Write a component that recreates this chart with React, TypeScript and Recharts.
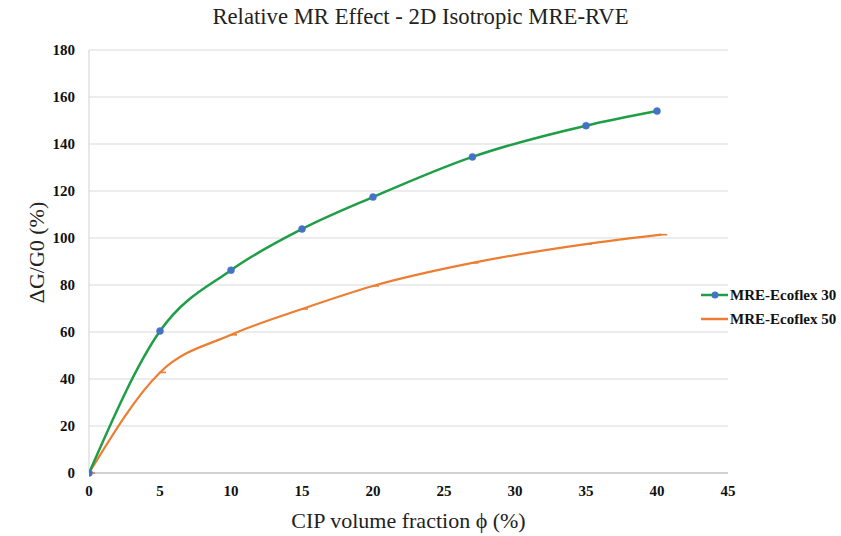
import React from 'react';
import {
  LineChart,
  Line,
  XAxis,
  YAxis,
  CartesianGrid,
  Label,
} from 'recharts';

const xTicks = [0, 5, 10, 15, 20, 25, 30, 35, 40, 45];
const yTicks = [0, 20, 40, 60, 80, 100, 120, 140, 160, 180];

const ecoflex30X = [0, 5, 10, 15, 20, 27, 35, 40];
const ecoflex30Y = [0, 60.4, 86.3, 103.8, 117.4, 134.5, 147.8, 154];

const ecoflex50X = [0, 5, 10, 15, 20, 27, 35, 40.3];
const ecoflex50Y = [0, 42.8, 58.8, 69.8, 79.6, 89.4, 97.4, 101.4];

const data30 = ecoflex30X.map((x, i) => ({ x, y: ecoflex30Y[i] }));
const data50 = ecoflex50X.map((x, i) => ({ x, y: ecoflex50Y[i] }));

const legendItems = [
  { name: 'MRE-Ecoflex 30', color: '#1e9e45', dot: true },
  { name: 'MRE-Ecoflex 50', color: '#ed7d31', dot: false },
];

const GREEN = '#1e9e45';
const ORANGE = '#ed7d31';
const BLUE = '#4472c4';
const SERIF = '"Liberation Serif", "Times New Roman", serif';

const DashDot = (props: any) => {
  const { cx, cy, index } = props;
  if (cx == null || cy == null) return <g key={index} />;
  return (
    <line
      key={index}
      x1={cx - 1}
      y1={cy}
      x2={cx + 6}
      y2={cy}
      stroke={ORANGE}
      strokeWidth={1.6}
    />
  );
};

// legend drawn outside recharts so it doesn't shrink the plot
const LegendBox = () => (
  <div
    style={{
      position: 'absolute',
      left: 701,
      top: 283,
      fontFamily: SERIF,
      fontWeight: 700,
      fontSize: 15,
      color: '#111',
    }}
  >
    {legendItems.map((e) => (
      <div key={e.name} style={{ display: 'flex', alignItems: 'center', height: 24 }}>
        <svg width={27} height={10} style={{ marginRight: 2 }}>
          <line x1={0} y1={5} x2={27} y2={5} stroke={e.color} strokeWidth={2.5} />
          {e.dot && <circle cx={14} cy={5} r={3.5} fill={BLUE} />}
        </svg>
        <span>{e.name}</span>
      </div>
    ))}
  </div>
);

export default function App() {
  return (
    <div
      style={{
        position: 'absolute',
        left: 0,
        top: 0,
        width: 841,
        height: 536,
        background: '#fff',
      }}
    >
      <div
        style={{
          position: 'absolute',
          top: 4,
          left: 0,
          width: 841,
          textAlign: 'center',
          fontFamily: SERIF,
          fontSize: 22.7,
          color: '#222',
        }}
      >
        Relative MR Effect - 2D Isotropic MRE-RVE
      </div>
      <LineChart
        width={841}
        height={536}
        margin={{ top: 50, right: 113, bottom: 0, left: 30 }}
      >
        <CartesianGrid vertical={false} stroke="#d9d9d9" strokeWidth={1.2} />
        <XAxis
          type="number"
          dataKey="x"
          domain={[0, 45]}
          ticks={xTicks}
          allowDataOverflow
          height={63}
          tickSize={0}
          tickMargin={12}
          axisLine={{ stroke: '#c8c8c8', strokeWidth: 1.5 }}
          tick={{ fontFamily: SERIF, fontWeight: 700, fontSize: 15, fill: '#111' }}
        >
          <Label
            value="CIP volume fraction ϕ (%)"
            position="insideBottom"
            offset={8}
            style={{ fontFamily: SERIF, fontSize: 22, fill: '#222' }}
          />
        </XAxis>
        <YAxis
          type="number"
          domain={[0, 180]}
          ticks={yTicks}
          width={59}
          tickSize={0}
          tickMargin={14}
          axisLine={{ stroke: '#d9d9d9', strokeWidth: 1.2 }}
          tick={{ fontFamily: SERIF, fontWeight: 700, fontSize: 15, fill: '#111' }}
        >
          <Label
            value="ΔG/G0 (%)"
            content={({ viewBox }: any) => {
              const cx = viewBox.x + 6;
              const cy = viewBox.y + viewBox.height / 2 - 9;
              return (
                <text
                  x={cx}
                  y={cy}
                  transform={`rotate(-90, ${cx}, ${cy})`}
                  textAnchor="middle"
                  dominantBaseline="central"
                  style={{ fontFamily: SERIF, fontSize: 22, fill: '#222' }}
                >
                  ΔG/G0 (%)
                </text>
              );
            }}
          />
        </YAxis>
        <Line
          data={data50}
          dataKey="y"
          name="MRE-Ecoflex 50"
          type="monotone"
          stroke={ORANGE}
          strokeWidth={2.2}
          dot={<DashDot />}
          activeDot={false}
          isAnimationActive={false}
        />
        <Line
          data={data30}
          dataKey="y"
          name="MRE-Ecoflex 30"
          type="monotone"
          stroke={GREEN}
          strokeWidth={2.5}
          dot={{ r: 3.5, fill: BLUE, stroke: BLUE, strokeWidth: 0.5 }}
          activeDot={false}
          isAnimationActive={false}
        />
      </LineChart>
      <LegendBox />
    </div>
  );
}
